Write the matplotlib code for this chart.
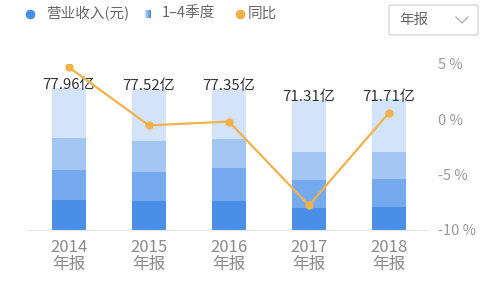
import numpy as np
import matplotlib
matplotlib.use("Agg")
import matplotlib.pyplot as plt
from matplotlib.patches import FancyBboxPatch
from matplotlib.lines import Line2D

plt.rcParams['font.family'] = ['Noto Sans CJK SC', 'DejaVu Sans']

# data
years = ["2014", "2015", "2016", "2017", "2018"]
q1 = [16.0, 15.6, 15.6, 12.0, 12.3]
q2 = [16.6, 16.0, 18.5, 15.1, 15.7]
q3 = [17.7, 17.1, 15.6, 15.3, 14.7]
totals = [77.96, 77.52, 77.35, 71.31, 71.71]
yoy = [4.7, -0.56, -0.22, -7.81, 0.56]

q4 = [t - a - b - c for t, a, b, c in zip(totals, q1, q2, q3)]

colors = ["#4a8fe7", "#75aaee", "#a4c6f3", "#d3e3fa"]
orange = "#f3b14a"

W, H = 500, 284
fig = plt.figure(figsize=(5, 2.84), dpi=100)
fig.patch.set_facecolor("white")

def fx(px):
    return px / W

def fy(py):
    return 1 - py / H

ax = fig.add_axes([fx(27), fy(229.5), fx(428 - 27), (229.5 - 64) / H])
x = np.arange(len(years))
bw = 34 / 80
bottom = np.zeros(len(years))
for vals, c in zip([q1, q2, q3, q4], colors):
    ax.bar(x, vals, bw, bottom=bottom, color=c, zorder=2)
    bottom += np.array(vals)

for xi, t in zip(x, totals):
    ax.annotate(f"{t:.2f}亿", (xi, t), xytext=(0, -1), textcoords="offset points",
                ha="center", va="baseline", fontsize=10.8, color="#333333", zorder=5)

ax.set_xlim(-0.525, 4.49)
ax.set_ylim(0, 91.1)
ax.set_yticks([])
for s in ["top", "left", "right"]:
    ax.spines[s].set_visible(False)
ax.spines["bottom"].set_color("#e8e8e8")
ax.set_xticks(x)
ax.set_xticklabels([f"{y}\n年报" for y in years], fontsize=12, color="#8a8a8a",
                   linespacing=0.95)
ax.tick_params(axis="x", length=0, pad=7)

ax2 = ax.twinx()
ax2.plot(x, yoy, color=orange, lw=1.6, marker="o", markersize=5, zorder=6)
ax2.set_ylim(-10, 5)
ax2.set_yticks([5, 0, -5, -10])
ax2.set_yticklabels(["5 %", "0 %", "-5 %", "-10 %"], fontsize=10.5, color="#9a9a9a")
ax2.tick_params(axis="y", length=0, pad=7)
for s in ["top", "left", "right", "bottom"]:
    ax2.spines[s].set_visible(False)

# legend
fig.add_artist(Line2D([fx(30)], [fy(14)], marker="o", markersize=6, color="#4a8fe7",
                      transform=fig.transFigure))
fig.text(fx(46), fy(14), "营业收入(元)", fontsize=10.5, color="#666666", va="center")
gax = fig.add_axes([fx(145), fy(18.5), fx(6), 9 / H])
gax.imshow(np.linspace(0, 1, 20).reshape(1, -1), aspect="auto",
           cmap=matplotlib.colors.LinearSegmentedColormap.from_list("g", ["#c6dbf8", "#3f86e4"]))
gax.axis("off")
fig.text(fx(162), fy(14), "1–4季度", fontsize=10.5, color="#666666", va="center")
fig.add_artist(Line2D([fx(240)], [fy(14)], marker="o", markersize=6, color=orange,
                      transform=fig.transFigure))
fig.text(fx(248), fy(14), "同比", fontsize=10.5, color="#666666", va="center")

# dropdown
box = FancyBboxPatch((fx(389), fy(35)), fx(89), 30 / H,
                     boxstyle="round,pad=0,rounding_size=0.006",
                     transform=fig.transFigure, facecolor="white",
                     edgecolor="#d6d6d6", lw=1)
fig.add_artist(box)
fig.text(fx(399), fy(20), "年报", fontsize=10.5, color="#666666", va="center")
fig.add_artist(Line2D([fx(456), fx(462), fx(468)], [fy(17), fy(23), fy(17)],
                      color="#aaaaaa", lw=0.9, transform=fig.transFigure))

fig.savefig("out.png", dpi=100)
